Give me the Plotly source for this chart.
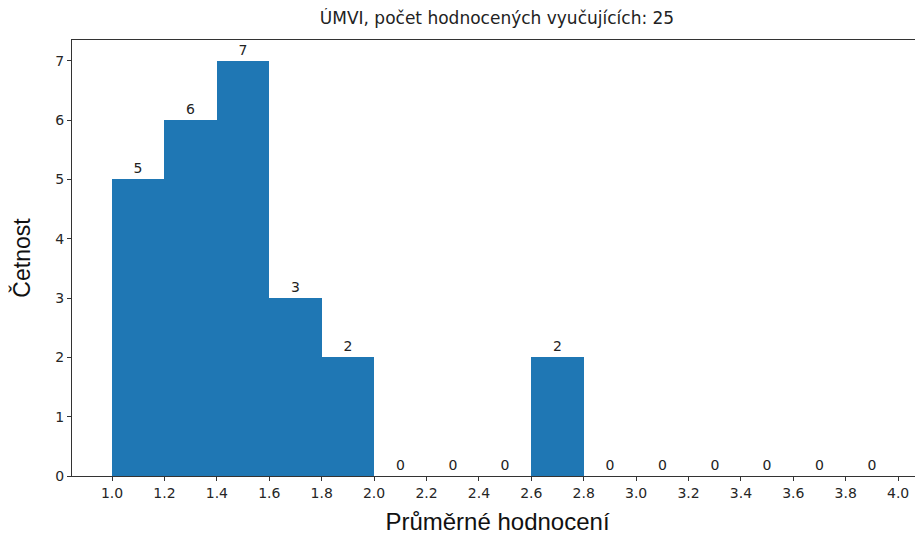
import plotly.graph_objects as go

bin_edges = [1.0, 1.2, 1.4, 1.6, 1.8, 2.0, 2.2, 2.4, 2.6, 2.8, 3.0, 3.2, 3.4, 3.6, 3.8, 4.0]
counts = [5, 6, 7, 3, 2, 0, 0, 0, 2, 0, 0, 0, 0, 0, 0]
x_ticks = [1.0, 1.2, 1.4, 1.6, 1.8, 2.0, 2.2, 2.4, 2.6, 2.8, 3.0, 3.2, 3.4, 3.6, 3.8, 4.0]
y_ticks = [0, 1, 2, 3, 4, 5, 6, 7]
title = "ÚMVI, počet hodnocených vyučujících: 25"

centers = [(a + b) / 2 for a, b in zip(bin_edges[:-1], bin_edges[1:])]
widths = [b - a for a, b in zip(bin_edges[:-1], bin_edges[1:])]

# the page body has an 8px margin, so the figure is sized/offset to compensate
W, H = 915, 527

fig = go.Figure(go.Bar(
    x=centers, y=counts, width=widths,
    marker=dict(color="#1f77b4", line=dict(width=0)),
    text=[str(c) for c in counts], textposition="outside",
    textfont=dict(family="DejaVu Sans", size=14, color="#222"),
    cliponaxis=False,
))

fig.update_layout(
    width=W, height=H,
    margin=dict(l=64, r=0, t=32, b=59, autoexpand=False),
    paper_bgcolor="white", plot_bgcolor="white",
    showlegend=False,
    bargap=0,
    title=dict(text=title, x=(497 - 8) / W, xanchor="center", y=1 - 10 / H, yanchor="middle",
               font=dict(family="DejaVu Sans", size=17, color="#222")),
    xaxis=dict(
        range=[0.847, 4.095], tickvals=x_ticks,
        ticktext=[f"{v:.1f}" for v in x_ticks],
        showgrid=False, zeroline=False, automargin=False,
        showline=True, linecolor="#333", linewidth=1.2, mirror=True,
        ticks="outside", ticklen=4, tickcolor="#333",
        tickfont=dict(family="DejaVu Sans", size=14, color="#262626"),
        title=dict(text="Průměrné hodnocení", standoff=13,
                   font=dict(family="Liberation Sans", size=24, color="#111")),
    ),
    yaxis=dict(
        range=[0, 7.35], tickvals=y_ticks,
        showgrid=False, zeroline=False, automargin=False,
        showline=True, linecolor="#333", linewidth=1.2,
        ticks="outside", ticklen=4, tickcolor="#333",
        tickfont=dict(family="DejaVu Sans", size=14, color="#262626"),
        title=dict(text="Četnost", standoff=18,
                   font=dict(family="Liberation Sans", size=23, color="#111")),
    ),
)

fig.write_html("out.html")
